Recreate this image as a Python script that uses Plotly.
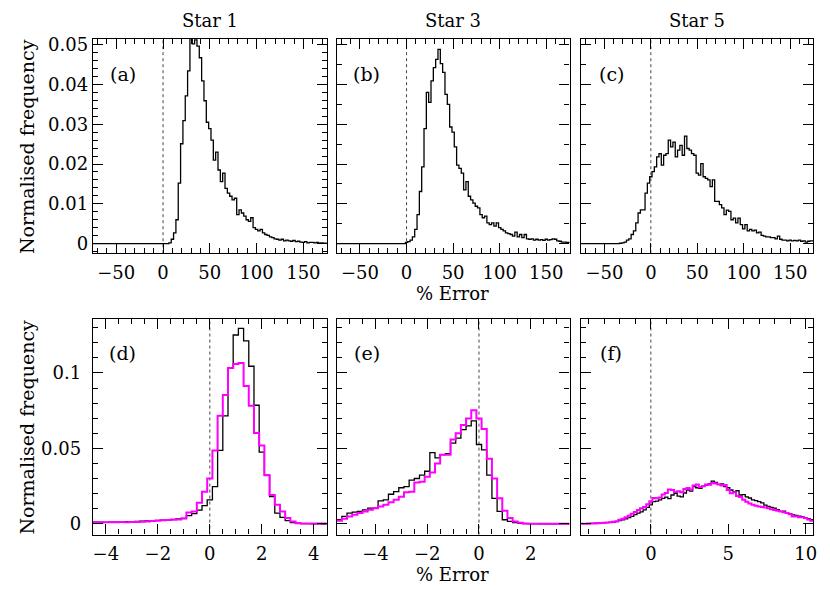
import numpy as np
import plotly.graph_objects as go

# ---------------- data (normalised frequency per bin) ----------------
# Top row: bins 2.5 % wide, centres from -75 to 175
top_bin_start = -75.0
top_bin_width = 2.5

star1_full = [
    0, 0, 0, 0, 0, 0, 0, 0, 0, 0, 0, 0, 0, 0, 0, 0, 0, 0, 0, 0,
    0, 0, 0, 0, 0, 0, 0, 0, 0, 0, 0, 0, 0,
    0.0002, 0.0011, 0.0027, 0.0060, 0.0152, 0.0251, 0.0309, 0.0371, 0.0434, 0.0525,
    0.0502, 0.0512, 0.0496, 0.0467, 0.0409, 0.0359, 0.0305, 0.0289, 0.0260, 0.0210,
    0.0230, 0.0185, 0.0156, 0.0177, 0.0139, 0.0127, 0.0119, 0.0110, 0.0114, 0.0073,
    0.0085, 0.0077, 0.0069, 0.0060, 0.0056, 0.0065, 0.0040, 0.0036, 0.0032, 0.0036,
    0.0027, 0.0023, 0.0021, 0.0017, 0.0015, 0.0012, 0.0011, 0.0009, 0.0011, 0.0007,
    0.0009, 0.0007, 0.0006, 0.0008, 0.0005, 0.0006, 0.0004, 0.0003, 0.0005, 0.0002,
    0.0003, 0.0003, 0.0002, 0.0003, 0.0001, 0.0002, 0.0001, 0.0001,
]

star3_full = [
    0, 0, 0, 0, 0, 0, 0, 0, 0, 0, 0, 0, 0, 0, 0, 0, 0, 0, 0, 0,
    0, 0, 0, 0, 0, 0, 0, 0, 0, 0,
    0.0003, 0.0005, 0.0009, 0.0017, 0.0036, 0.0073, 0.0131, 0.0193, 0.0289, 0.0380,
    0.0355, 0.0409, 0.0442, 0.0463, 0.0488, 0.0452, 0.0430, 0.0375, 0.0350, 0.0293,
    0.0280, 0.0243, 0.0197, 0.0189, 0.0177, 0.0135, 0.0156, 0.0119, 0.0110, 0.0102,
    0.0094, 0.0090, 0.0073, 0.0065, 0.0069, 0.0052, 0.0048, 0.0052, 0.0044, 0.0052,
    0.0040, 0.0036, 0.0032, 0.0027, 0.0025, 0.0023, 0.0019, 0.0029, 0.0017, 0.0023,
    0.0015, 0.0023, 0.0012, 0.0011, 0.0012, 0.0009, 0.0011, 0.0009, 0.0010, 0.0008,
    0.0011, 0.0009, 0.0010, 0.0012, 0.0011, 0.0007, 0.0006, 0.0004, 0.0004, 0.0003,
    0.0003,
]

star5_full = [
    0, 0, 0, 0, 0, 0, 0, 0, 0, 0, 0, 0, 0, 0, 0, 0, 0,
    0.0001, 0.0002, 0.0004, 0.0009, 0.0012, 0.0023, 0.0032, 0.0052, 0.0077, 0.0085,
    0.0085, 0.0127, 0.0152, 0.0168, 0.0181, 0.0193, 0.0218, 0.0226, 0.0197, 0.0222,
    0.0226, 0.0260, 0.0243, 0.0255, 0.0218, 0.0235, 0.0247, 0.0222, 0.0270, 0.0239,
    0.0235, 0.0226, 0.0222, 0.0177, 0.0172, 0.0201, 0.0168, 0.0164, 0.0160, 0.0143,
    0.0160, 0.0106, 0.0106, 0.0098, 0.0090, 0.0073, 0.0084, 0.0081, 0.0060, 0.0064,
    0.0052, 0.0064, 0.0048, 0.0037, 0.0048, 0.0032, 0.0036, 0.0032, 0.0034, 0.0027,
    0.0029, 0.0021, 0.0019, 0.0017, 0.0017, 0.0015, 0.0015, 0.0012, 0.0019, 0.0011,
    0.0009, 0.0009, 0.0007, 0.0009, 0.0007, 0.0008, 0.0007, 0.0009, 0.0006, 0.0007,
    0.0004, 0.0006, 0.0007, 0.0007,
]

# Bottom row: bins 0.2 % wide
star1_bin_start = -4.4
star3_bin_start = -5.4
star5_bin_start = -4.4
bottom_bin_width = 0.2

star1_black = [
    0.0010, 0.0012, 0.0011, 0.0013, 0.0012, 0.0014, 0.0015, 0.0014, 0.0017, 0.0018,
    0.0020, 0.0021, 0.0024, 0.0026, 0.0028, 0.0030, 0.0033, 0.0036, 0.0055, 0.0068,
    0.0092, 0.0122, 0.0159, 0.0247, 0.0487, 0.0716, 0.1033, 0.1251, 0.1295, 0.1212,
    0.1044, 0.0786, 0.0476, 0.0323, 0.0181, 0.0072, 0.0044, 0.0022, 0.0010, 0.0005,
    0.0003, 0.0002, 0.0001, 0.0001, 0.0000,
]
star1_magenta = [
    0.0013, 0.0010, 0.0011, 0.0012, 0.0011, 0.0013, 0.0012, 0.0014, 0.0013, 0.0015,
    0.0016, 0.0020, 0.0022, 0.0024, 0.0026, 0.0028, 0.0030, 0.0038, 0.0076, 0.0082,
    0.0140, 0.0214, 0.0301, 0.0487, 0.0716, 0.0854, 0.1033, 0.1059, 0.1066, 0.0913,
    0.0782, 0.0603, 0.0520, 0.0323, 0.0192, 0.0127, 0.0083, 0.0039, 0.0017, 0.0005,
    0.0004, 0.0003, 0.0003, 0.0003, 0.0003,
]

star3_black = [
    0.0028, 0.0050, 0.0072, 0.0079, 0.0083, 0.0094, 0.0105, 0.0105, 0.0153, 0.0160,
    0.0197, 0.0214, 0.0240, 0.0247, 0.0290, 0.0301, 0.0323, 0.0349, 0.0472, 0.0437,
    0.0459, 0.0465, 0.0535, 0.0568, 0.0625, 0.0650, 0.0683, 0.0526, 0.0490, 0.0323,
    0.0170, 0.0083, 0.0028, 0.0017, 0.0010, 0.0005, 0.0003, 0.0002, 0.0002, 0.0001,
    0.0001, 0.0001, 0.0001, 0.0001, 0.0001,
]
star3_magenta = [
    0.0022, 0.0035, 0.0050, 0.0061, 0.0072, 0.0083, 0.0094, 0.0105, 0.0116, 0.0127,
    0.0144, 0.0160, 0.0181, 0.0210, 0.0214, 0.0275, 0.0279, 0.0312, 0.0341, 0.0400,
    0.0459, 0.0459, 0.0559, 0.0600, 0.0655, 0.0699, 0.0753, 0.0699, 0.0629, 0.0432,
    0.0301, 0.0170, 0.0087, 0.0039, 0.0017, 0.0008, 0.0004, 0.0002, 0.0002, 0.0002,
    0.0002, 0.0002, 0.0002, 0.0002, 0.0002,
]

star5_black = [
    0.0002, 0.0003, 0.0003, 0.0004, 0.0005, 0.0006, 0.0007, 0.0008, 0.0009, 0.0011,
    0.0013, 0.0016, 0.0022, 0.0027, 0.0034, 0.0042, 0.0050, 0.0062, 0.0072, 0.0080,
    0.0094, 0.0110, 0.0127, 0.0148, 0.0152, 0.0160, 0.0170, 0.0178, 0.0168, 0.0192,
    0.0203, 0.0185, 0.0180, 0.0205, 0.0225, 0.0218, 0.0247, 0.0240, 0.0236, 0.0250,
    0.0258, 0.0265, 0.0284, 0.0275, 0.0262, 0.0265, 0.0247, 0.0240, 0.0225, 0.0214,
    0.0220, 0.0192, 0.0195, 0.0180, 0.0172, 0.0160, 0.0155, 0.0148, 0.0140, 0.0125,
    0.0116, 0.0110, 0.0105, 0.0095, 0.0083, 0.0085, 0.0072, 0.0068, 0.0060, 0.0057,
    0.0052, 0.0048, 0.0040, 0.0035, 0.0028,
]
star5_magenta = [
    0.0002, 0.0002, 0.0003, 0.0004, 0.0004, 0.0005, 0.0006, 0.0008, 0.0010, 0.0012,
    0.0015, 0.0018, 0.0028, 0.0035, 0.0045, 0.0055, 0.0068, 0.0080, 0.0092, 0.0105,
    0.0112, 0.0130, 0.0150, 0.0172, 0.0170, 0.0176, 0.0195, 0.0205, 0.0228, 0.0225,
    0.0212, 0.0216, 0.0210, 0.0232, 0.0238, 0.0228, 0.0255, 0.0262, 0.0245, 0.0250,
    0.0262, 0.0260, 0.0271, 0.0268, 0.0262, 0.0255, 0.0258, 0.0225, 0.0203, 0.0210,
    0.0185, 0.0178, 0.0160, 0.0148, 0.0135, 0.0127, 0.0120, 0.0116, 0.0112, 0.0109,
    0.0104, 0.0098, 0.0092, 0.0087, 0.0083, 0.0078, 0.0072, 0.0064, 0.0050, 0.0052,
    0.0044, 0.0045, 0.0039, 0.0030, 0.0022,
]

column_titles = ["Star 1", "Star 3", "Star 5"]
panel_labels = ["(a)", "(b)", "(c)", "(d)", "(e)", "(f)"]
x_title = "% Error"
y_title = "Normalised frequency"

# ---------------- layout geometry ----------------
# the page body adds an 8 px margin, so the figure is 8 px smaller and
# reference pixel positions are shifted by that margin
OFF = 8
W, H = 830 - OFF, 590 - OFF
FONT = "DejaVu Serif"
col_px = [(93.3, 328.3), (338.3, 572.3), (584.0, 817.3)]
top_px = (34.3, 250.7)
bot_px = (316.7, 535.0)


def px2x(px):
    return (px - OFF) / W


def px2y(py):
    return 1 - (py - OFF) / H


def xdom(c):
    return [px2x(col_px[c][0]), px2x(col_px[c][1])]


def ydom(r):
    t, b = r
    return [px2y(b), px2y(t)]


def steps(start, width, vals):
    v = np.asarray(vals, dtype=float)
    edges = start - width / 2 + width * np.arange(len(v) + 1)
    return edges, np.append(v, v[-1])


fig = go.Figure()

panels = [
    # (col, row, x-range, x major, x minor, y minor, series list)
    (0, "top", [-75, 175], 50, 10, 0.002, [(top_bin_start, top_bin_width, star1_full, "black", 1.3)]),
    (1, "top", [-75, 175], 50, 10, 0.005, [(top_bin_start, top_bin_width, star3_full, "black", 1.3)]),
    (2, "top", [-75, 175], 50, 10, 0.005, [(top_bin_start, top_bin_width, star5_full, "black", 1.3)]),
    (0, "bot", [-4.5, 4.5], 2, 0.5, 0.01, [(star1_bin_start, bottom_bin_width, star1_black, "black", 1.3),
                                          (star1_bin_start, bottom_bin_width, star1_magenta, "#ff00ff", 2.0)]),
    (1, "bot", [-5.5, 3.5], 2, 0.5, 0.01, [(star3_bin_start, bottom_bin_width, star3_black, "black", 1.3),
                                          (star3_bin_start, bottom_bin_width, star3_magenta, "#ff00ff", 2.0)]),
    (2, "bot", [-4.5, 10.5], 5, 1, 0.01, [(star5_bin_start, bottom_bin_width, star5_black, "black", 1.3),
                                         (star5_bin_start, bottom_bin_width, star5_magenta, "#ff00ff", 2.0)]),
]

tick_font = dict(family=FONT, size=18, color="black")

for i, (col, row, xr, xmaj, xmin, ymin, series) in enumerate(panels, start=1):
    xa = "x" if i == 1 else f"x{i}"
    ya = "y" if i == 1 else f"y{i}"
    for start, width, vals, color, lw in series:
        xs, ys = steps(start, width, vals)
        fig.add_trace(go.Scatter(x=xs, y=ys, mode="lines", line=dict(color=color, width=lw, shape="hv"),
                                 xaxis=xa, yaxis=ya, showlegend=False, hoverinfo="skip"))
    top = row == "top"
    yr = [-0.0024, 0.0514] if top else [-0.0070, 0.136]
    ymaj = 0.01 if top else 0.05
    common = dict(showline=True, linecolor="black", linewidth=1.3, mirror="ticks",
                  ticks="inside", ticklen=10, tickwidth=1.2, tickcolor="black",
                  showgrid=False, zeroline=False, tickfont=tick_font, tick0=0)
    fig.update_layout(**{
        ("xaxis" if i == 1 else f"xaxis{i}"): dict(
            common, domain=xdom(col), range=xr, dtick=xmaj, anchor=ya,
            minor=dict(dtick=xmin, ticks="inside", ticklen=5, tickwidth=1.1, tickcolor="black", showgrid=False),
            ticklabelstandoff=3),
        ("yaxis" if i == 1 else f"yaxis{i}"): dict(
            common, domain=ydom(top_px if top else bot_px), range=yr, dtick=ymaj, anchor=xa,
            showticklabels=(col == 0),
            minor=dict(dtick=ymin, ticks="inside", ticklen=5, tickwidth=1.1, tickcolor="black", showgrid=False),
            ticklabelstandoff=(0 if top else 7)),
    })
    # zero reference line
    fig.add_shape(type="line", xref=xa, yref=f"{ya} domain", x0=0, x1=0, y0=0, y1=1,
                  line=dict(color="#444444", width=1, dash="3px,3px"), layer="below")
    # panel label
    fig.add_annotation(text=panel_labels[i - 1], xref="paper", yref="paper",
                       x=px2x(col_px[col][0] + 30),
                       y=px2y(70 if top else 352),
                       xanchor="center", yanchor="middle", showarrow=False,
                       font=dict(family=FONT, size=19, color="black"))

# column titles
for c, t in enumerate(column_titles):
    fig.add_annotation(text=t, xref="paper", yref="paper", x=px2x((col_px[c][0] + col_px[c][1]) / 2),
                       y=px2y(16), xanchor="center", yanchor="middle", showarrow=False,
                       font=dict(family=FONT, size=18, color="black"))

# x titles
for yy in (291, 575):
    fig.add_annotation(text=x_title, xref="paper", yref="paper", x=px2x(455), y=px2y(yy),
                       xanchor="center", yanchor="middle", showarrow=False,
                       font=dict(family=FONT, size=18, color="black"))

# y titles
for yy in (142.5, 426):
    fig.add_annotation(text=y_title, xref="paper", yref="paper", x=px2x(27), y=px2y(yy),
                       xanchor="center", yanchor="middle", showarrow=False, textangle=-90,
                       font=dict(family=FONT, size=19, color="black"))

fig.update_layout(width=W, height=H, margin=dict(l=0, r=0, t=0, b=0),
                  paper_bgcolor="white", plot_bgcolor="white", showlegend=False)

fig.write_html("out.html")
